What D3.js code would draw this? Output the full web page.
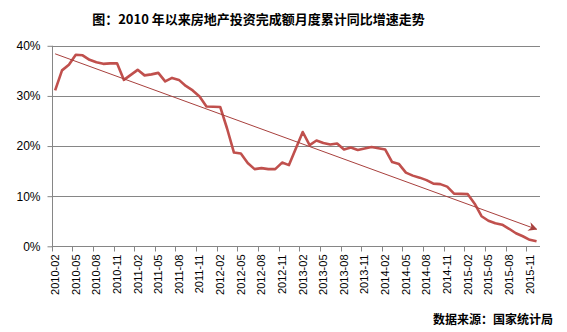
<!DOCTYPE html>
<html>
<head>
<meta charset="utf-8">
<script src="https://cdn.jsdelivr.net/npm/d3@7"></script>
<style>
  html, body { margin: 0; padding: 0; background: #fff; }
  svg { display: block; }
</style>
</head>
<body>
<svg id="chart" width="567" height="332"></svg>
<script>
// Monthly categories (January is reported together with February, so it has no value)
const months = [
  "2010-02","2010-03","2010-04","2010-05","2010-06","2010-07","2010-08","2010-09","2010-10","2010-11","2010-12",
  "2011-01","2011-02","2011-03","2011-04","2011-05","2011-06","2011-07","2011-08","2011-09","2011-10","2011-11","2011-12",
  "2012-01","2012-02","2012-03","2012-04","2012-05","2012-06","2012-07","2012-08","2012-09","2012-10","2012-11","2012-12",
  "2013-01","2013-02","2013-03","2013-04","2013-05","2013-06","2013-07","2013-08","2013-09","2013-10","2013-11","2013-12",
  "2014-01","2014-02","2014-03","2014-04","2014-05","2014-06","2014-07","2014-08","2014-09","2014-10","2014-11","2014-12",
  "2015-01","2015-02","2015-03","2015-04","2015-05","2015-06","2015-07","2015-08","2015-09","2015-10","2015-11","2015-12"
];

// Cumulative year-on-year growth of real-estate investment, %
const growth = [
  31.1, 35.1, 36.2, 38.2, 38.1, 37.2, 36.7, 36.4, 36.5, 36.5, 33.2,
  null, 35.2, 34.1, 34.3, 34.6, 32.9, 33.6, 33.2, 32.0, 31.1, 29.9, 27.9,
  null, 27.8, 23.5, 18.7, 18.5, 16.6, 15.4, 15.6, 15.4, 15.4, 16.7, 16.2,
  null, 22.8, 20.2, 21.1, 20.6, 20.3, 20.5, 19.3, 19.7, 19.2, 19.5, 19.8,
  null, 19.3, 16.8, 16.4, 14.7, 14.1, 13.7, 13.2, 12.5, 12.4, 11.9, 10.5,
  null, 10.4, 8.5, 6.0, 5.1, 4.6, 4.3, 3.5, 2.6, 2.0, 1.3, 1.0
];

// Trend arrow: start and end values (%) at the first and last month
const trendMonths = ["2010-02", "2015-12"];
const trendValues = [38.4, 3.4];

// Labelled months on the category axis
const tickLabels = [
  "2010-02","2010-05","2010-08","2010-11","2011-02","2011-05","2011-08","2011-11",
  "2012-02","2012-05","2012-08","2012-11","2013-02","2013-05","2013-08","2013-11",
  "2014-02","2014-05","2014-08","2014-11","2015-02","2015-05","2015-08","2015-11"
];
const yTicks = [0, 10, 20, 30, 40];

const titleText = "图：2010 年以来房地产投资完成额月度累计同比增速走势";
const sourceText = "数据来源：国家统计局";

const svg = d3.select("#chart");
const plotLeft = 51.7, plotRight = 540, plotTop = 45.8, plotBottom = 246.3;

const x = d3.scaleBand().domain(months).range([plotLeft, plotRight]).paddingInner(0).paddingOuter(0);
const y = d3.scaleLinear().domain([0, 40]).range([plotBottom, plotTop]);
const cx = m => x(m) + x.bandwidth() / 2;

const latin = "'Liberation Sans', Arial, sans-serif";
const cjk = "'Noto Sans CJK SC', 'Noto Sans', sans-serif";

// Title
svg.append("text")
  .attr("x", 258.5).attr("y", 24)
  .attr("text-anchor", "middle")
  .style("font-family", cjk).style("font-weight", "bold").style("font-size", "13px")
  .attr("fill", "#000")
  .text(titleText);

// Horizontal gridlines
svg.append("g")
  .selectAll("line")
  .data(yTicks.filter(d => d > 0))
  .join("line")
  .attr("x1", plotLeft).attr("x2", plotRight)
  .attr("y1", d => Math.round(y(d)) + 0.5).attr("y2", d => Math.round(y(d)) + 0.5)
  .attr("stroke", "#868686").attr("stroke-width", 1);

// Y axis
const yAxis = svg.append("g")
  .attr("transform", `translate(${Math.round(plotLeft) + 0.5},0)`)
  .call(d3.axisLeft(y).tickValues(yTicks).tickSize(5).tickPadding(7).tickFormat(d => d + "%"));
yAxis.select(".domain").attr("stroke", "#868686").attr("d", `M0,${plotTop}V${plotBottom}`);
yAxis.selectAll(".tick line").attr("stroke", "#868686");
yAxis.selectAll("text")
  .style("font-family", latin).style("font-size", "12px").attr("fill", "#000");

// X axis: labels at month centres, tick marks at category boundaries
const xAxis = svg.append("g")
  .attr("transform", `translate(0,${Math.round(plotBottom) + 0.5})`)
  .call(d3.axisBottom(x).tickValues(tickLabels).tickSize(0).tickPadding(0));
xAxis.select(".domain").attr("stroke", "#868686").attr("d", `M${plotLeft},0H${plotRight}`);
xAxis.selectAll("text")
  .attr("transform", "rotate(-90)")
  .attr("text-anchor", "end")
  .attr("x", -8).attr("y", 0).attr("dy", "0.35em")
  .style("font-family", latin).style("font-size", "11px").attr("fill", "#000");
xAxis.append("g")
  .selectAll("line")
  .data(tickLabels)
  .join("line")
  .attr("x1", d => Math.round(x(d)) + 0.5).attr("x2", d => Math.round(x(d)) + 0.5)
  .attr("y1", 0).attr("y2", 5)
  .attr("stroke", "#868686");

// Growth line (January gaps are bridged from December to February)
const pts = months.map((m, i) => ({ m, v: growth[i] })).filter(d => d.v != null);
svg.append("path")
  .datum(pts)
  .attr("fill", "none")
  .attr("stroke", "#C0504D")
  .attr("stroke-width", 2.6)
  .attr("stroke-linejoin", "round")
  .attr("d", d3.line().x(d => cx(d.m)).y(d => y(d.v)));

// Trend arrow
const defs = svg.append("defs");
defs.append("marker")
  .attr("id", "arrow")
  .attr("viewBox", "0 0 10 10")
  .attr("refX", 9).attr("refY", 5)
  .attr("markerWidth", 9).attr("markerHeight", 9)
  .attr("markerUnits", "userSpaceOnUse")
  .attr("orient", "auto")
  .append("path")
  .attr("d", "M0,0 L10,5 L0,10 L3,5 Z")
  .attr("fill", "#A8403D");

const trend = trendMonths.map((m, i) => ({ m, v: trendValues[i] }));
svg.append("path")
  .datum(trend)
  .attr("fill", "none")
  .attr("stroke", "#A8403D")
  .attr("stroke-width", 1)
  .attr("marker-end", "url(#arrow)")
  .attr("d", d3.line().x(d => cx(d.m)).y(d => y(d.v)));

// Source note
svg.append("text")
  .attr("x", 553).attr("y", 324)
  .attr("text-anchor", "end")
  .style("font-family", cjk).style("font-weight", "bold").style("font-size", "12px")
  .attr("fill", "#000")
  .text(sourceText);
</script>
</body>
</html>
